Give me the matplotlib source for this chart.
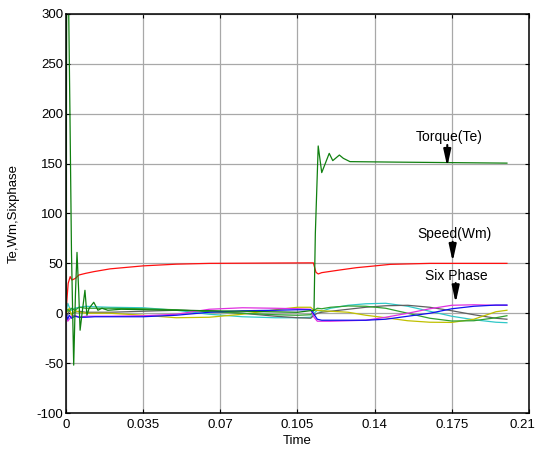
import matplotlib
matplotlib.use("Agg")
import matplotlib.pyplot as plt
import matplotlib.transforms as mtransforms

plt.rcParams['font.family'] = ['Liberation Sans', 'DejaVu Sans']
plt.rcParams['axes.unicode_minus'] = False

# ---- data ----
t_torque = [0, 0.0003, 0.0012, 0.0018, 0.0025, 0.0035, 0.0043, 0.005, 0.0058, 0.0064,
            0.0073, 0.0086, 0.0095, 0.0105, 0.0126, 0.0145, 0.0163, 0.019, 0.025, 0.05,
            0.08, 0.105, 0.1125, 0.1131, 0.1144, 0.116, 0.1194, 0.121, 0.124, 0.1258,
            0.1288, 0.15, 0.2]
torque = [0, 320, 310, 200, 60, -52, 20, 61, 20, -17,
          0, 23, -2, 5, 11, 3, 5, 3, 4, 3,
          2, 1, 3, 80, 167.7, 141, 160.3, 153, 158.6, 155.3,
          152, 151.5, 150.5]

t_speed = [0, 0.0005, 0.001, 0.0019, 0.0027, 0.0043, 0.0058, 0.0089, 0.0126, 0.02,
           0.035, 0.05, 0.065, 0.11, 0.1122, 0.1134, 0.1144, 0.116, 0.1243, 0.1318,
           0.1393, 0.147, 0.165, 0.2]
speed = [0, 16, 30, 36.7, 33.3, 35, 38.3, 40, 41.7, 44.5,
         47.5, 49.2, 50, 50.5, 50.5, 41, 39.4, 40.7, 43.4, 45.7,
         47.3, 49, 50, 50]

t_phase = [0, 0.0008, 0.0015, 0.0025, 0.004, 0.006, 0.009, 0.013, 0.02, 0.035,
           0.05, 0.065, 0.08, 0.095, 0.105, 0.111, 0.1125, 0.114, 0.116, 0.12,
           0.128, 0.136, 0.145, 0.155, 0.165, 0.175, 0.185, 0.195, 0.2]
phase_cyan = [0, 10, 6, 3, 5, 6, 7, 6.5, 6, 5.5,
              3, -1, -3.5, -4.5, -4.5, -4, 0, 3, 2, 5,
              8, 9.5, 10, 7, 2, -3, -6.5, -9, -9.5]
phase_gray = [0, -2, 3, -1, 1, 2, 1, 1, 1, 2,
              3, 2.5, 0, -3, -4.5, -5, -2, 0, 1, 2,
              4, 6, 7.5, 8, 6, 2.5, -1.5, -5, -6]
phase_magenta = [0, -8, -6, -3, -2, -4, -3, -3, -3, -2.5,
                 -1, 4, 5.5, 5, 4.5, 4, -4, -8, -8, -8,
                 -7.5, -7, -4, 0, 4.5, 8, 8.5, 8, 8]
phase_blue = [0, -6, -2, -5, -3, -4, -4, -3.5, -3.5, -3.5,
              -2, 1, 2.5, 3, 3.5, 3.5, -1, -6, -7, -7,
              -7, -7, -6, -3, 0, 4.5, 7, 8.2, 8.2]
phase_yellow = [0, 2, 5, -2, 3, 1, 0, 0, 0, -2,
                -4.5, -4, -1, 3.5, 6, 6, 3, 3, 2.5, 2,
                1, -2, -4.5, -7.5, -9, -9.2, -6, 1.5, 3]
phase_green = [0, 4, 2, 5, 3, 6, 5, 5, 5, 4.5,
               3.5, 1.5, 0, -1.5, -2, -1.5, 3, 5, 4.5, 6,
               7.3, 7, 5, 0, -5, -7.8, -7.5, -4.5, -2.5]

xticks = [0, 0.035, 0.07, 0.105, 0.14, 0.175, 0.21]
xticklabels = ['0', '0.035', '0.07', '0.105', '0.14', '0.175', '0.21']
yticks = [-100, -50, 0, 50, 100, 150, 200, 250, 300]

# ---- figure ----
fig = plt.figure(figsize=(5.36, 4.53), dpi=100)
ax = fig.add_axes([0.1231, 0.0883, 0.8638, 0.8808])

lw = 0.9
ax.plot(t_phase, phase_cyan, color='#30C8C8', lw=lw)
ax.plot(t_phase, phase_gray, color='#606060', lw=lw)
ax.plot(t_phase, phase_yellow, color='#C0C000', lw=lw)
ax.plot(t_phase, phase_green, color='#30A030', lw=lw)
ax.plot(t_phase, phase_magenta, color='#E030E0', lw=lw)
ax.plot(t_phase, phase_blue, color='#1010F0', lw=lw)
ax.plot(t_speed, speed, color='#FF1010', lw=lw)
ax.plot(t_torque, torque, color='#108010', lw=lw)

ax.set_xlim(0, 0.21)
ax.set_ylim(-100, 300)
ax.set_xticks(xticks)
ax.set_xticklabels(xticklabels)
ax.set_yticks(yticks)
ax.grid(True, color='#a8a8a8', lw=0.9, ls='-')
ax.set_axisbelow(True)
ax.tick_params(direction='in', length=3, top=True, right=True, labelsize=9.5,
               width=0.8)
ax.tick_params(axis='x', pad=4)
ax.tick_params(axis='y', pad=2)
for s in ax.spines.values():
    s.set_linewidth(1.1)
    s.set_color('black')

# nudge the last x tick label so it stays inside the canvas
last = ax.get_xticklabels()[-1]
last.set_transform(last.get_transform() +
                   mtransforms.ScaledTranslation(-7 / 100, 0, fig.dpi_scale_trans))

ax.set_xlabel('Time', fontsize=9.5, labelpad=3)
ax.set_ylabel('Te,Wm,Sixphase', fontsize=9.5, labelpad=12)

arrow_kw = dict(arrowstyle='-|>,head_length=1.0,head_width=0.22', color='black',
                lw=1.5, shrinkA=0, shrinkB=0)
fs = 10
ax.text(0.17394, 177.0, 'Torque(Te)', ha='center', va='center', fontsize=fs)
ax.annotate('', xy=(0.17294, 146.9), xytext=(0.17294, 168.7), arrowprops=arrow_kw)
ax.text(0.17598, 79.4, 'Speed(Wm)', ha='center', va='center', fontsize=fs)
ax.annotate('', xy=(0.17539, 51.7), xytext=(0.17539, 71.7), arrowprops=arrow_kw)
ax.text(0.17689, 37.3, 'Six Phase', ha='center', va='center', fontsize=fs)
ax.annotate('', xy=(0.17675, 10.3), xytext=(0.17675, 30.3), arrowprops=arrow_kw)

fig.savefig('out.png', dpi=100)
